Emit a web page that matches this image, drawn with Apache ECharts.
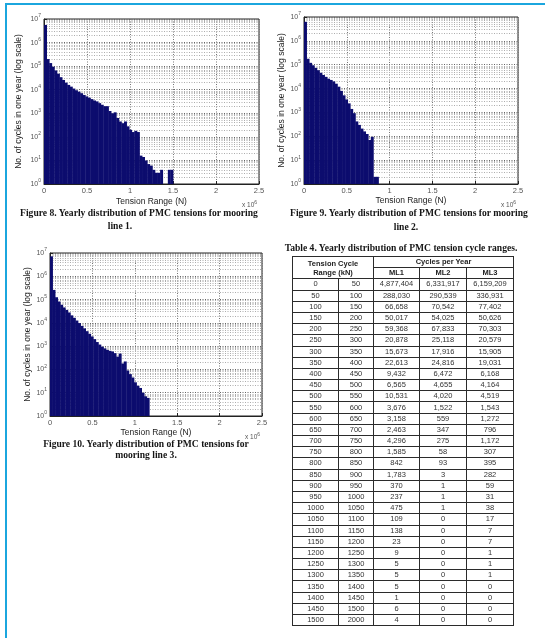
<!DOCTYPE html>
<html>
<head>
<meta charset="utf-8">
<script src="https://cdn.jsdelivr.net/npm/echarts@6/dist/echarts.min.js"></script>
<style>
body { margin: 0; background: #fff; }
#page { position: relative; width: 545px; height: 638px; overflow: hidden; background: #fff; }
#chart { position: absolute; left: 0; top: 0; width: 545px; height: 638px; }
.bl { position: absolute; background: #1ba6de; }
.cap { position: absolute; width: 320px; text-align: center; white-space: nowrap;
  font-family: "Liberation Serif", "Times New Roman", serif; font-weight: bold;
  font-size: 9.6px; line-height: 12px; color: #151515; }
#tbl { position: absolute; left: 292px; top: 256px; border-collapse: collapse; table-layout: fixed;
  font-family: "Liberation Sans Narrow", "Liberation Sans", sans-serif; font-size: 7.5px; color: #333; }
#tbl td { border: 1px solid #2b2b2b; padding: 0; height: 10.2px; line-height: 10px; text-align: center; overflow: hidden; white-space: nowrap; }
#tbl .h { font-weight: bold; color: #222; }
</style>
</head>
<body>
<div id="page">
  <div class="bl" style="left:5px;top:3px;width:540px;height:2px"></div>
  <div class="bl" style="left:5px;top:3px;width:2px;height:635px"></div>
  <div id="chart"></div>

  <div class="cap" style="left:-21px;top:207px">Figure 8. Yearly distribution of PMC tensions for mooring</div>
  <div class="cap" style="left:-40px;top:220px">line 1.</div>
  <div class="cap" style="left:249px;top:207px">Figure 9. Yearly distribution of PMC tensions for mooring</div>
  <div class="cap" style="left:246px;top:221px">line 2.</div>
  <div class="cap" style="left:-14px;top:438px">Figure 10. Yearly distribution of PMC tensions for</div>
  <div class="cap" style="left:-14px;top:449px">mooring line 3.</div>
  <div class="cap" style="left:241px;top:242px">Table 4. Yearly distribution of PMC tension cycle ranges.</div>

  <table id="tbl"></table>
</div>

<script>
// histogram bin width, in units of 10^6 N
var BIN = 0.03;

// cycles per year in each bin
var fig8Counts = [5600000, 200000, 135000, 95000, 66000, 48000, 34000, 26000, 20000, 16000,
  13500, 11200, 9500, 8300, 7100, 6000, 5200, 4600, 4000, 3500,
  3200, 2700, 2300, 2000, 2000, 1250, 1000, 1100, 630, 450,
  380, 450, 280, 200, 160, 180, 160, 16, 14, 10,
  7, 6, 4, 3, 3, 4, 1, 1, 4, 4];

var fig9Counts = [6300000, 178000, 120000, 95000, 74000, 59000, 46000, 37000, 31000, 26000,
  23000, 20000, 16000, 12000, 8000, 5200, 3500, 2400, 1400, 930,
  420, 300, 210, 160, 125, 70, 95, 2, 2];

var fig10Counts = [7200000, 260000, 126000, 83000, 60000, 46000, 36000, 28000, 21000, 16500,
  12600, 9800, 7400, 5800, 4400, 3400, 2600, 2000, 1500, 1170,
  950, 800, 690, 630, 590, 500, 355, 480, 180, 220,
  90, 63, 45, 28, 20, 16, 10, 7, 6];

// Table 4
var rangeFrom = [0, 50, 100, 150, 200, 250, 300, 350, 400, 450, 500, 550, 600, 650, 700, 750,
  800, 850, 900, 950, 1000, 1050, 1100, 1150, 1200, 1250, 1300, 1350, 1400, 1450, 1500];
var rangeTo = [50, 100, 150, 200, 250, 300, 350, 400, 450, 500, 550, 600, 650, 700, 750, 800,
  850, 900, 950, 1000, 1050, 1100, 1150, 1200, 1250, 1300, 1350, 1400, 1450, 1500, 2000];
var ml1 = [4877404, 288030, 66658, 50017, 59368, 20878, 15673, 22613, 9432, 6565, 10531, 3676, 3158, 2463, 4296, 1585,
  842, 1783, 370, 237, 475, 109, 138, 23, 9, 5, 5, 5, 1, 6, 4];
var ml2 = [6331917, 290539, 70542, 54025, 67833, 25118, 17916, 24816, 6472, 4655, 4020, 1522, 559, 347, 275, 58,
  93, 3, 1, 1, 1, 0, 0, 0, 0, 0, 0, 0, 0, 0, 0];
var ml3 = [6159209, 336931, 77402, 50626, 70303, 20579, 15905, 19031, 6168, 4164, 4519, 1543, 1272, 796, 1172, 307,
  395, 282, 59, 31, 38, 17, 7, 7, 1, 1, 1, 0, 0, 0, 0];

// ---- table ----
var colW = [46, 35, 46, 47, 47];
var html = '<colgroup>' + colW.map(function (w) { return '<col style="width:' + w + 'px">'; }).join('') + '</colgroup>';
html += '<tr><td class="h" colspan="2" rowspan="2" style="line-height:9px">Tension Cycle<br>Range (kN)</td><td class="h" colspan="3">Cycles per Year</td></tr>';
html += '<tr><td class="h">ML1</td><td class="h">ML2</td><td class="h">ML3</td></tr>';
function fmt(n) { return n.toLocaleString('en-US'); }
for (var r = 0; r < rangeFrom.length; r++) {
  html += '<tr><td>' + rangeFrom[r] + '</td><td>' + rangeTo[r] + '</td><td>' + fmt(ml1[r]) +
    '</td><td>' + fmt(ml2[r]) + '</td><td>' + fmt(ml3[r]) + '</td></tr>';
}
document.getElementById('tbl').innerHTML = html;

// ---- charts ----
var BAR = '#0c0c6e';
var FONT = 'Liberation Sans';
var grids = [
  { left: 44, top: 19, width: 215, height: 165 },
  { left: 304, top: 17, width: 214, height: 167 },
  { left: 50, top: 253, width: 212, height: 163 }
];
var yNameGap = [21, 15, 16];
var xNameGap = [13, 12, 12];

var minorLevels = [];
for (var k = 0; k < 7; k++) {
  for (var m = 2; m <= 9; m++) minorLevels.push(m * Math.pow(10, k));
}

function renderBin(params, api) {
  var c = api.value(2);
  if (c <= 1) return null;
  var p0 = api.coord([api.value(0), c]);
  var p1 = api.coord([api.value(1), 1]);
  return {
    type: 'rect',
    shape: { x: p0[0], y: p0[1], width: p1[0] - p0[0] + 0.4, height: p1[1] - p0[1] },
    style: { fill: BAR }
  };
}

var xAxes = [], yAxes = [], series = [];
[fig8Counts, fig9Counts, fig10Counts].forEach(function (counts, gi) {
  xAxes.push({
    type: 'value', gridIndex: gi, min: 0, max: 2.5, interval: 0.5,
    name: 'Tension Range (N)', nameLocation: 'middle', nameGap: xNameGap[gi],
    nameTextStyle: { fontFamily: FONT, fontSize: 8.5, color: '#222' },
    axisLine: { onZero: false, lineStyle: { color: '#222', width: 1 } },
    axisTick: { inside: true, length: 3, lineStyle: { color: '#222' } },
    axisLabel: { fontFamily: FONT, fontSize: 7.5, color: '#555', margin: 3 },
    splitLine: { show: true, lineStyle: { color: '#777', type: [1, 1.5], width: 1 } }
  });
  yAxes.push({
    type: 'log', logBase: 10, gridIndex: gi, min: 1, max: 10000000, splitNumber: 7,
    name: 'No. of cycles in one year (log scale)', nameLocation: 'middle', nameGap: yNameGap[gi],
    nameTextStyle: { fontFamily: FONT, fontSize: 8.5, color: '#222' },
    axisLine: { lineStyle: { color: '#222', width: 1 } },
    axisTick: { inside: true, length: 3, lineStyle: { color: '#222' } },
    axisLabel: {
      margin: 3, color: '#555',
      formatter: function (v) { return '{b|10}{s|' + Math.round(Math.log10(v)) + '}'; },
      rich: {
        b: { fontFamily: FONT, fontSize: 7, color: '#555' },
        s: { fontFamily: FONT, fontSize: 5, color: '#555', padding: [0, 0, 6, 0] }
      }
    },
    splitLine: { show: true, lineStyle: { color: '#666', type: [1, 1.5], width: 1 } }
  });
  series.push({
    type: 'line', xAxisIndex: gi, yAxisIndex: gi, data: [], silent: true, z: 0,
    markLine: {
      z: 0, silent: true, symbol: 'none', animation: false, label: { show: false },
      lineStyle: { color: '#adadad', type: [1, 1.5], width: 1 },
      data: minorLevels.map(function (v) { return { yAxis: v }; })
    }
  });
  series.push({
    type: 'custom', xAxisIndex: gi, yAxisIndex: gi, z: 10, animation: false,
    renderItem: renderBin,
    encode: { x: [0, 1], y: 2 },
    data: counts.map(function (c, i) { return [i * BIN, (i + 1) * BIN, c]; })
  });
});

function expLabel(gi) {
  var g = grids[gi];
  return {
    type: 'text', left: g.left + g.width - 17, top: g.top + g.height + 16,
    style: {
      text: '{a|x 10}{s|6}', rich: {
        a: { fontFamily: FONT, fontSize: 6.5, fill: '#555' },
        s: { fontFamily: FONT, fontSize: 5, fill: '#555', padding: [0, 0, 6, 0] }
      }
    }
  };
}

var chart = echarts.init(document.getElementById('chart'), null, { renderer: 'canvas' });
chart.setOption({
  animation: false,
  backgroundColor: 'transparent',
  grid: grids.map(function (g) {
    return { left: g.left, top: g.top, width: g.width, height: g.height, show: true,
      borderColor: '#222', borderWidth: 1, backgroundColor: '#fff', containLabel: false };
  }),
  xAxis: xAxes,
  yAxis: yAxes,
  graphic: [expLabel(0), expLabel(1), expLabel(2)],
  series: series
});
</script>
</body>
</html>
